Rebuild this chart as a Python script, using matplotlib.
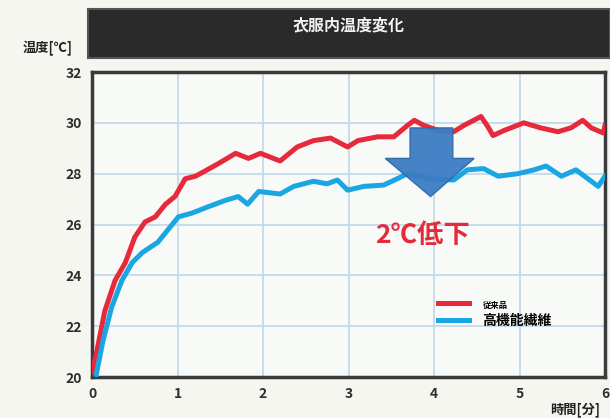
import matplotlib
matplotlib.use("Agg")
import matplotlib.pyplot as plt
from matplotlib.patches import Polygon

plt.rcParams['font.family'] = ['Noto Sans CJK JP', 'DejaVu Sans']

title = "衣服内温度変化"
ylabel = "温度[℃]"
xlabel = "時間[分]"
series_names = ["従来品", "高機能繊維"]
note = "2℃低下"

# 従来品 (conventional)
t_conv = [0.0, 0.05, 0.15, 0.27, 0.39, 0.50, 0.62, 0.74, 0.86, 0.97, 1.09, 1.21,
          1.32, 1.48, 1.68, 1.83, 1.97, 2.20, 2.40, 2.59, 2.79, 2.99, 3.11, 3.34,
          3.53, 3.69, 3.77, 3.88, 4.05, 4.23, 4.35, 4.55, 4.63, 4.69, 4.82, 5.05,
          5.25, 5.45, 5.60, 5.74, 5.84, 5.98, 6.0]
v_conv = [20.2, 20.9, 22.6, 23.8, 24.5, 25.5, 26.1, 26.3, 26.8, 27.1, 27.8, 27.9,
          28.1, 28.4, 28.8, 28.6, 28.8, 28.5, 29.05, 29.3, 29.4, 29.05, 29.3, 29.45,
          29.45, 29.9, 30.1, 29.9, 29.7, 29.65, 29.9, 30.25, 29.85, 29.5, 29.7, 30.0,
          29.8, 29.65, 29.8, 30.1, 29.8, 29.6, 29.9]

# 高機能繊維 (high-function fibre)
t_func = [0.05, 0.13, 0.23, 0.35, 0.47, 0.59, 0.68, 0.77, 0.89, 1.01, 1.17, 1.36,
          1.56, 1.71, 1.82, 1.95, 2.20, 2.36, 2.59, 2.75, 2.87, 2.99, 3.18, 3.41,
          3.57, 3.69, 3.95, 4.23, 4.39, 4.58, 4.75, 4.98, 5.17, 5.31, 5.49, 5.66,
          5.80, 5.92, 6.0]
v_func = [20.1, 21.45, 22.75, 23.8, 24.5, 24.9, 25.1, 25.3, 25.8, 26.3, 26.45, 26.7,
          26.95, 27.1, 26.8, 27.3, 27.2, 27.5, 27.7, 27.6, 27.75, 27.35, 27.5, 27.55,
          27.8, 28.0, 27.8, 27.75, 28.15, 28.2, 27.9, 28.0, 28.15, 28.3, 27.9, 28.15,
          27.8, 27.5, 27.9]

xticks = [0, 1, 2, 3, 4, 5, 6]
yticks = [20, 22, 24, 26, 28, 30, 32]

RED = "#e62a3c"
BLUE = "#19a6e2"
BG = "#f6f6f0"

fig = plt.figure(figsize=(6.10, 4.18), dpi=100, facecolor=BG)

# dark title banner
banner = fig.add_axes([88/610, 1-58/418, 522/610, 49/418])
banner.set_facecolor("#2a2a2a")
banner.set_xticks([]); banner.set_yticks([])
for s in banner.spines.values():
    s.set_color("#555555"); s.set_linewidth(1.5)
banner.text(0.5, 0.66, title, color="#f2f2f2", ha="center", va="center",
            fontsize=11.5, fontweight="bold", transform=banner.transAxes)

ax = fig.add_axes([92/610, 1-377/418, 513/610, 305/418])
ax.set_facecolor("#f8faf7")
ax.set_xlim(0, 6)
ax.set_ylim(20, 32)
ax.set_xticks(xticks)
ax.set_yticks(yticks)
ax.set_xticklabels([str(v) for v in xticks], fontsize=10, fontweight="bold", color="#2e2e2e")
ax.set_yticklabels([str(v) for v in yticks], fontsize=10, fontweight="bold", color="#2e2e2e")
ax.tick_params(length=0, pad=7)
ax.grid(True, color="#c3d9ea", linewidth=1.3)
ax.set_axisbelow(True)
for s in ax.spines.values():
    s.set_color("#3a3a3a"); s.set_linewidth(2.5)

l1, = ax.plot(t_conv, v_conv, color=RED, linewidth=3.6, solid_joinstyle="round",
              label=series_names[0], zorder=3)
l2, = ax.plot(t_func, v_func, color=BLUE, linewidth=3.6, solid_joinstyle="round",
              label=series_names[1], zorder=3)

# downward block arrow
arrow = Polygon([(3.72, 29.8), (4.22, 29.8), (4.22, 28.6), (4.47, 28.6),
                 (3.96, 27.1), (3.43, 28.6), (3.72, 28.6)],
                closed=True, facecolor="#3b7cc4", edgecolor="#2f69ad",
                linewidth=1.0, alpha=0.95, zorder=4)
ax.add_patch(arrow)

ax.text(3.87, 25.55, note, color=RED, fontsize=19, fontweight="bold",
        ha="center", va="center", zorder=5)

leg = ax.legend(handles=[l1, l2], loc="center left",
                bbox_to_anchor=(0.65, 0.21), frameon=False,
                handlelength=2.2, handletextpad=1.0, labelspacing=0.35)
leg.get_texts()[0].set_fontsize(6)
leg.get_texts()[0].set_fontweight("bold")
leg.get_texts()[1].set_fontsize(10)
leg.get_texts()[1].set_fontweight("bold")

fig.text(48/610, 1-48/418, ylabel, ha="center", va="center", fontsize=9.5,
         fontweight="bold", color="#222222")
fig.text(575/610, 1-410/418, xlabel, ha="center", va="center", fontsize=9.5,
         fontweight="bold", color="#222222")

fig.savefig("out.png", dpi=100, facecolor=BG)
